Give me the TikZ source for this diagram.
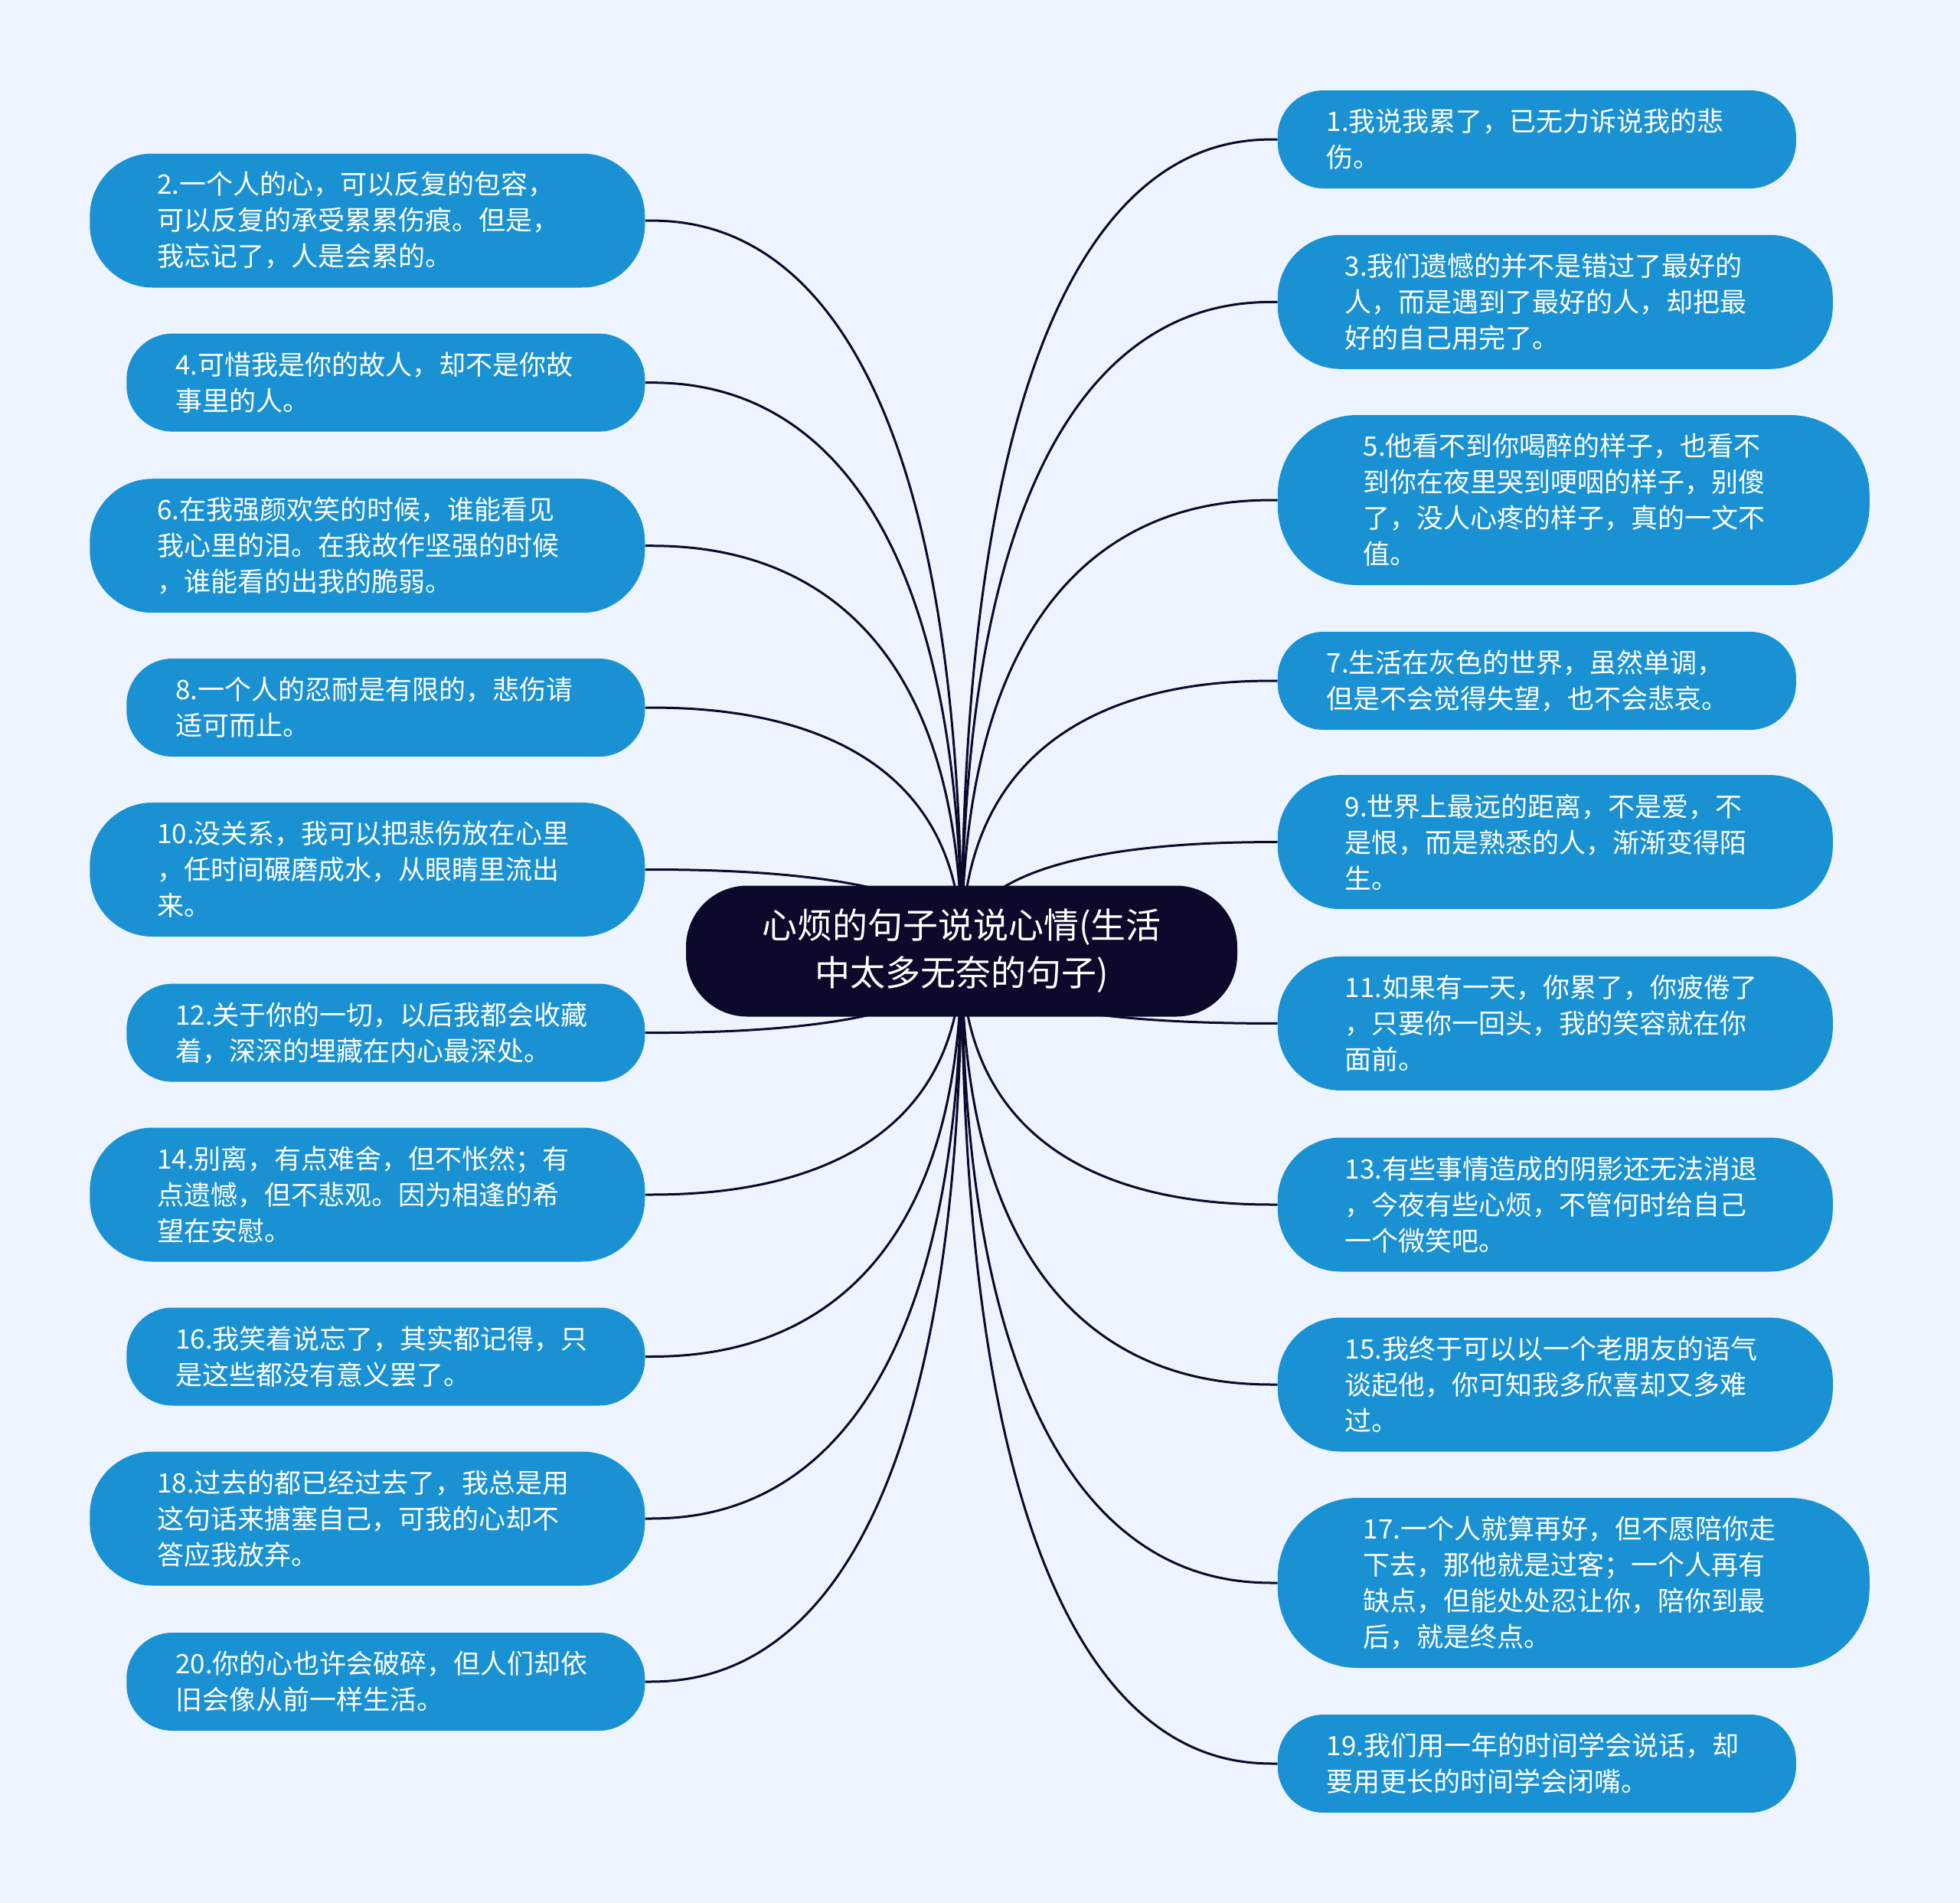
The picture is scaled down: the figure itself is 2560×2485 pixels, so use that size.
\documentclass[tikz,border=0pt]{standalone}
\usepackage{fontspec}
\setmainfont{Noto Sans CJK SC}
\usepackage{tikz}
\usetikzlibrary{calc}
\definecolor{navy}{RGB}{12,10,42}
\definecolor{leafblue}{RGB}{25,145,210}
\definecolor{paper}{RGB}{238,244,254}
\pgfdeclarelayer{bg}
\pgfdeclarelayer{edges}
\pgfsetlayers{bg,edges,main}

\begin{document}
\begin{tikzpicture}[x=1pt, y=-1pt,
leaf/.style={fill=leafblue, text=white, text width=549pt, align=left, inner ysep=0pt, inner xsep=64pt, minimum height=128pt, rounded corners=60pt, font=\fontsize{35}{47}\selectfont},
leafiii/.style={leaf, inner xsep=88pt, minimum height=175pt, rounded corners=82pt},
leafiv/.style={leaf, inner xsep=112pt, minimum height=222pt, rounded corners=104pt},
root/.style={fill=navy, text=white, align=center, inner sep=0pt, minimum width=720pt, minimum height=171pt, rounded corners=80pt, font=\fontsize{46}{62}\selectfont},
link/.style={navy, line width=3pt}]
\begin{pgfonlayer}{bg}
\fill[paper] (0,0) rectangle (2560,2485);
\end{pgfonlayer}
\useasboundingbox (0,0) rectangle (2560,2485);

\node[root] (root) at (1256,1242) {心烦的句子说说心情(生活\\中太多无奈的句子)};

\node[leafiii, anchor=east] (n2) at (842.5,288) {2.一个人的心，可以反复的包容，\\可以反复的承受累累伤痕。但是，\\我忘记了，人是会累的。};
\node[leaf, anchor=east] (n4) at (842.5,499.6) {4.可惜我是你的故人，却不是你故\\事里的人。};
\node[leafiii, anchor=east] (n6) at (842.5,712.7) {6.在我强颜欢笑的时候，谁能看见\\我心里的泪。在我故作坚强的时候\\，谁能看的出我的脆弱。};
\node[leaf, anchor=east] (n8) at (842.5,924) {8.一个人的忍耐是有限的，悲伤请\\适可而止。};
\node[leafiii, anchor=east] (n10) at (842.5,1135.5) {10.没关系，我可以把悲伤放在心里\\，任时间碾磨成水，从眼睛里流出\\来。};
\node[leaf, anchor=east] (n12) at (842.5,1348.6) {12.关于你的一切，以后我都会收藏\\着，深深的埋藏在内心最深处。};
\node[leafiii, anchor=east] (n14) at (842.5,1560) {14.别离，有点难舍，但不怅然；有\\点遗憾，但不悲观。因为相逢的希\\望在安慰。};
\node[leaf, anchor=east] (n16) at (842.5,1771.5) {16.我笑着说忘了，其实都记得，只\\是这些都没有意义罢了。};
\node[leafiii, anchor=east] (n18) at (842.5,1983) {18.过去的都已经过去了，我总是用\\这句话来搪塞自己，可我的心却不\\答应我放弃。};
\node[leaf, anchor=east] (n20) at (842.5,2196) {20.你的心也许会破碎，但人们却依\\旧会像从前一样生活。};

\node[leaf, anchor=west] (n1) at (1668.6,182) {1.我说我累了，已无力诉说我的悲\\伤。};
\node[leafiii, anchor=west] (n3) at (1668.6,394.3) {3.我们遗憾的并不是错过了最好的\\人，而是遇到了最好的人，却把最\\好的自己用完了。};
\node[leafiv, anchor=west] (n5) at (1668.6,653) {5.他看不到你喝醉的样子，也看不\\到你在夜里哭到哽咽的样子，别傻\\了，没人心疼的样子，真的一文不\\值。};
\node[leaf, anchor=west] (n7) at (1668.6,889) {7.生活在灰色的世界，虽然单调，\\但是不会觉得失望，也不会悲哀。};
\node[leafiii, anchor=west] (n9) at (1668.6,1099.6) {9.世界上最远的距离，不是爱，不\\是恨，而是熟悉的人，渐渐变得陌\\生。};
\node[leafiii, anchor=west] (n11) at (1668.6,1336.4) {11.如果有一天，你累了，你疲倦了\\，只要你一回头，我的笑容就在你\\面前。};
\node[leafiii, anchor=west] (n13) at (1668.6,1573) {13.有些事情造成的阴影还无法消退\\，今夜有些心烦，不管何时给自己\\一个微笑吧。};
\node[leafiii, anchor=west] (n15) at (1668.6,1808) {15.我终于可以以一个老朋友的语气\\谈起他，你可知我多欣喜却又多难\\过。};
\node[leafiv, anchor=west] (n17) at (1668.6,2067) {17.一个人就算再好，但不愿陪你走\\下去，那他就是过客；一个人再有\\缺点，但能处处忍让你，陪你到最\\后，就是终点。};
\node[leaf, anchor=west] (n19) at (1668.6,2303) {19.我们用一年的时间学会说话，却\\要用更长的时间学会闭嘴。};

\begin{pgfonlayer}{edges}
\foreach \n in {2,4,...,20}
  \draw[link] (root.center) .. controls (root.center |- n\n.east) and ($(root.center |- n\n.east)!0.8!(n\n.east)$) .. (n\n.east);
\foreach \n in {1,3,...,19}
  \draw[link] (root.center) .. controls (root.center |- n\n.west) and ($(root.center |- n\n.west)!0.8!(n\n.west)$) .. (n\n.west);
\end{pgfonlayer}
\end{tikzpicture}
\end{document}
